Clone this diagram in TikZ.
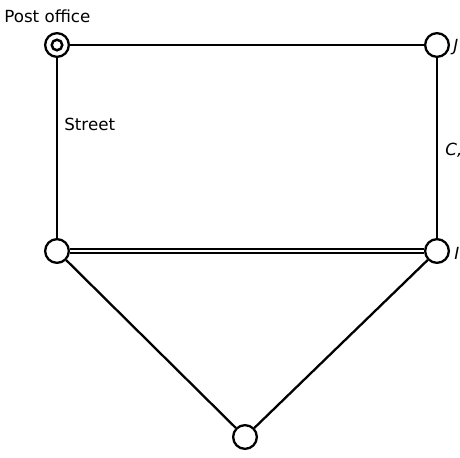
\documentclass[tikz,border=0pt]{standalone}
\usepackage{fontspec}
\setmainfont{DejaVu Sans}
\usepackage{tikz}
\usetikzlibrary{positioning}

\begin{document}
\begin{tikzpicture}[
  x=0.02cm, y=-0.02cm,
  stop/.style={circle, draw=black, line width=1.3pt, fill=white,
               minimum size=13.5pt, inner sep=0pt},
  road/.style={line width=1.3pt},
  mainroad/.style={line width=1.1pt, double=white, double distance=1.3pt},
  lbl/.style={font=\fontsize{9.5}{11}\selectfont, text=black, inner sep=0pt},
]
 \useasboundingbox (0,0) rectangle (460,457);
 \clip (0,0) rectangle (460,457);

 % Stops
 \node[stop] (PO) at (57,45) {};
 \node[stop] (J) at (437,45) {};
 \node[stop] (I) at (437,251) {};
 \node[stop] (H) at (57,251) {};
 \node[stop] (G) at (245,437) {};

 % Roads
 \draw[road] (PO) -- (J);
 \draw[road] (J) -- (I);
 \draw[road] (PO) -- (H);
 \draw[mainroad] (H) -- (I);
 \draw[road] (H) -- (G);
 \draw[road] (I) -- (G);

 % Post office mark
 \node[circle, draw=black, line width=1.4pt, minimum size=6pt, inner sep=0pt] (POin) at (PO) {};

 % Labels
 \node[lbl, anchor=west] (postlbl) at (4,16) {Post office};
 \node[lbl, anchor=west] (streetlbl) at (64,124) {Street};
 \node[lbl, anchor=west] (jlbl) at (453,47) {\itshape J};
 \node[lbl, anchor=west] (clbl) at (445,150) {\itshape C,};
 \node[lbl, anchor=west] (ilbl) at (454,253) {\itshape I};
\end{tikzpicture}
\end{document}
